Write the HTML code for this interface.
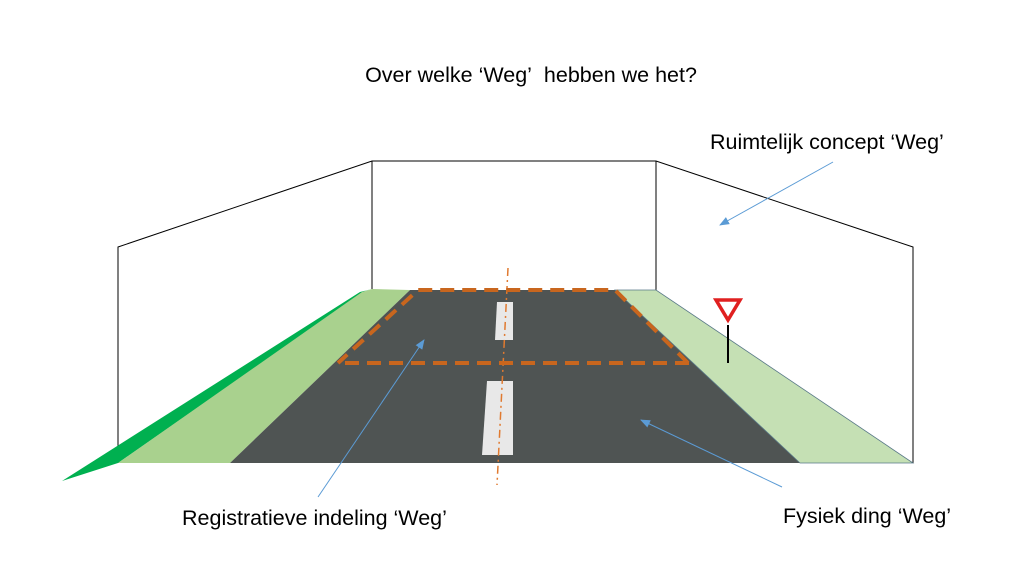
<!DOCTYPE html>
<html><head><meta charset="utf-8"><style>
body{margin:0;background:#fff;}
svg{display:block;}
text{font-family:"Liberation Sans",sans-serif;font-size:21.5px;fill:#000;}
</style></head><body>
<svg width="1017" height="572" viewBox="0 0 1017 572">
<defs><marker id="a" markerWidth="10" markerHeight="8" refX="9" refY="4" orient="auto" markerUnits="userSpaceOnUse"><path d="M0,0 L10,4 L0,8z" fill="#5b9bd5"/></marker></defs>
<g stroke="#000" stroke-width="1" fill="none">
<polyline points="118,463 118,247 372,161 656,161 913,247 913,463"/>
<line x1="372" y1="161" x2="372" y2="289"/>
<line x1="656" y1="161" x2="656" y2="290"/>
</g>
<polygon points="62,481 118,463 365,291 372,289 360,292" fill="#00b050"/>
<polygon points="118,463 230,463 410,290 372,289 362,292" fill="#a9d18e"/>
<polygon points="230,463 800,463 615,290 410,290" fill="#4f5453"/>
<polygon points="615,290 656,290 913,463 800,463" fill="#c5e0b4" stroke="#5a7a88" stroke-width="0.8"/>
<polygon points="497,302 513,302 513,340 495,340" fill="#e8e8e8"/>
<polygon points="487,381 513,381 513,455 482,455" fill="#e8e8e8"/>
<line x1="508" y1="268" x2="497" y2="485" stroke="#e07a30" stroke-width="1.5" stroke-dasharray="8,4,2,4"/>
<g stroke="#c8661e" stroke-width="4" stroke-dasharray="14,8" fill="none">
<polyline points="688,363 615,290 418,290 338,363"/>
<line x1="345" y1="363" x2="695" y2="363"/>
</g>
<polygon points="716,300 740,300 728,320" fill="#fff" stroke="#e02020" stroke-width="3.5"/>
<line x1="728" y1="325" x2="728" y2="363" stroke="#000" stroke-width="2"/>
<g stroke="#5b9bd5" stroke-width="1" marker-end="url(#a)">
<line x1="833" y1="162" x2="720" y2="225"/>
<line x1="318" y1="497" x2="424" y2="340"/>
<line x1="782" y1="487" x2="641" y2="420"/>
</g>
<text x="531" y="82" text-anchor="middle">Over welke ‘Weg’&#160; hebben we het?</text>
<text x="710" y="149">Ruimtelijk concept ‘Weg’</text>
<text x="182" y="525">Registratieve indeling ‘Weg’</text>
<text x="783" y="523">Fysiek ding ‘Weg’</text>
</svg>
</body></html>
